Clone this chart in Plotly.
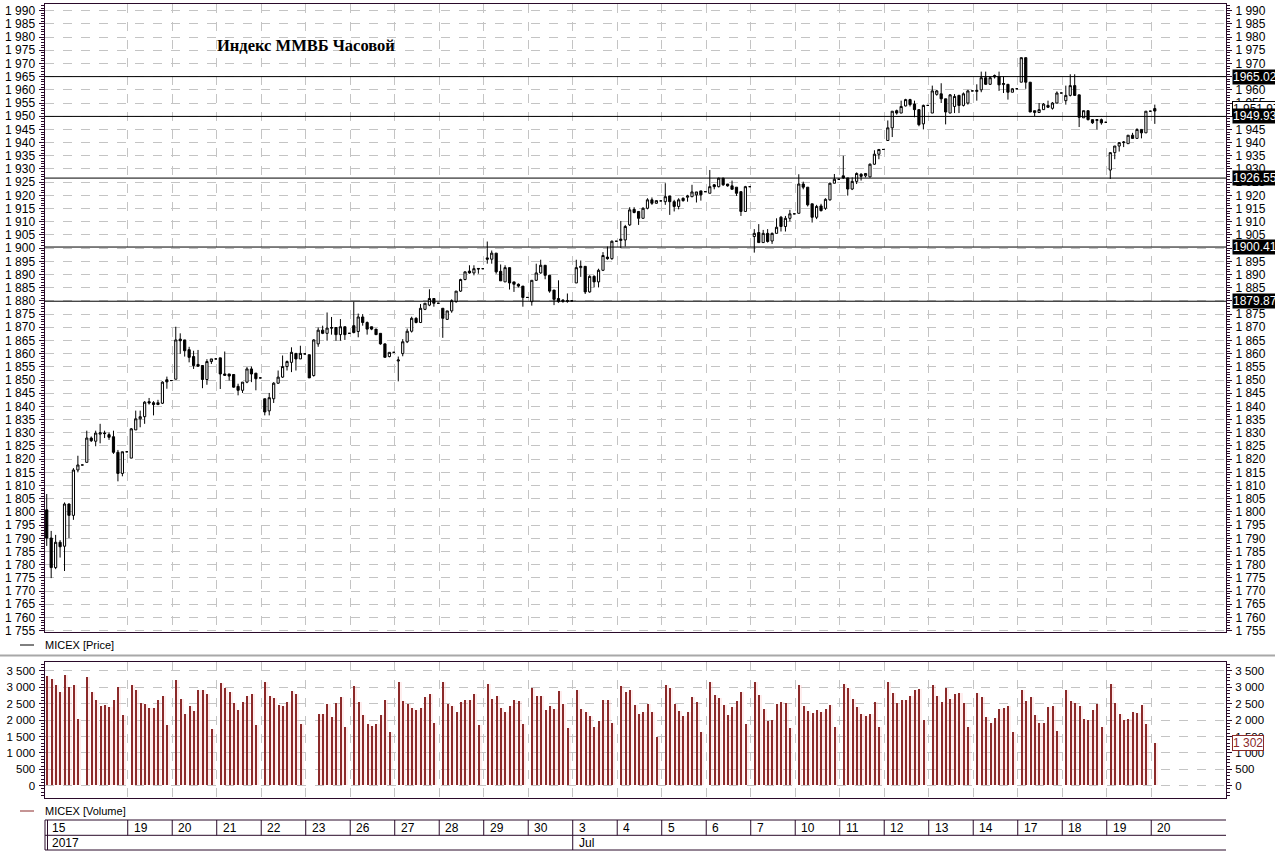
import plotly.graph_objects as go

# ---------------- data ----------------
# trading sessions shown on the time axis ('' = session without its own label)
day_labels = ['15', '', '19', '20', '21', '22', '23', '26', '27', '28', '29', '30',
              '3', '4', '5', '6', '7', '10', '11', '12', '13', '14', '17', '18', '19', '20']
month_labels = {0: '2017', 12: 'Jul'}
bars_per_day = [9] + [10] * 24 + [1]
first_slot = 1
slots_per_day = 10

opens = [
    1800.8, 1790.1, 1778.9, 1788.5, 1787.0, 1803.0, 1798.7, 1815.9, 1817.8,
    1818.8, 1828.0, 1826.8, 1829.5, 1829.9, 1829.3, 1828.5, 1822.6, 1814.6, 1822.8,
    1820.4, 1831.1, 1835.3, 1836.1, 1841.8, 1841.4, 1840.7, 1841.2, 1850.1, 1849.8,
    1850.3, 1865.5, 1865.2, 1861.5, 1858.9, 1855.9, 1855.5, 1850.2, 1857.0, 1858.0,
    1858.4, 1852.3, 1852.3, 1852.1, 1847.6, 1846.1, 1849.2, 1854.2, 1852.6, 1850.8,
    1842.9, 1838.3, 1842.9, 1848.8, 1851.1, 1855.1, 1856.7, 1860.1, 1858.0, 1859.9,
    1859.6, 1851.7, 1863.7, 1868.9, 1867.7, 1869.9, 1869.9, 1867.2, 1870.2, 1867.7,
    1870.6, 1868.4, 1873.9, 1871.8, 1870.2, 1869.3, 1867.7, 1863.7, 1858.9, 1860.5,
    1857.2, 1860.0, 1864.5, 1868.5, 1873.4, 1871.8, 1876.8, 1878.4, 1880.9, 1879.1,
    1877.2, 1873.0, 1876.2, 1879.7, 1883.7, 1888.1, 1891.3, 1890.6, 1892.3, 1892.2,
    1896.3, 1895.8, 1898.1, 1891.2, 1887.2, 1892.6, 1887.2, 1886.3, 1885.6, 1881.3,
    1879.7, 1887.8, 1890.6, 1893.5, 1889.7, 1884.1, 1880.9, 1880.3, 1879.8, 1880.0,
    1886.8, 1892.6, 1893.1, 1883.4, 1889.3, 1887.2, 1891.6, 1896.6, 1896.0, 1902.6,
    1902.9, 1903.1, 1908.8, 1914.7, 1913.9, 1911.3, 1915.1, 1918.3, 1917.0, 1917.9,
    1917.6, 1919.8, 1917.6, 1915.8, 1918.9, 1919.3, 1919.5, 1920.2, 1921.7, 1921.4,
    1920.8, 1924.0, 1923.3, 1926.5, 1924.3, 1923.6, 1923.1, 1921.4, 1913.9, 1923.3,
    1904.4, 1905.9, 1902.1, 1905.6, 1902.7, 1905.6, 1911.7, 1908.2, 1911.3, 1913.0,
    1913.2, 1924.3, 1923.1, 1916.8, 1911.7, 1916.0, 1915.1, 1918.3, 1924.6, 1926.1,
    1927.4, 1926.6, 1922.4, 1925.3, 1928.0, 1927.4, 1927.0, 1931.8, 1935.6, 1937.4,
    1940.8, 1945.6, 1952.1, 1951.2, 1953.9, 1956.3, 1954.6, 1952.5, 1947.1, 1954.1,
    1951.2, 1958.3, 1958.5, 1956.6, 1951.2, 1953.7, 1957.9, 1954.1, 1955.0, 1959.6,
    1959.4, 1960.0, 1964.6, 1962.1, 1964.9, 1965.0, 1962.0, 1962.1, 1959.1, 1960.4,
    1962.9, 1972.2, 1962.9, 1951.4, 1951.4, 1952.5, 1954.1, 1953.0, 1955.0, 1958.8,
    1955.9, 1957.9, 1961.6, 1958.1, 1949.4, 1952.1, 1948.7, 1948.4, 1948.7, 1947.7,
    1929.6, 1936.2, 1938.7, 1940.0, 1939.6, 1942.8, 1941.6, 1945.0, 1943.7, 1951.9,
    1952.9,
]
highs = [
    1806.8, 1792.8, 1791.3, 1789.3, 1803.6, 1803.2, 1816.6, 1821.3, 1817.8,
    1830.8, 1828.6, 1830.8, 1833.4, 1830.8, 1830.2, 1830.8, 1823.5, 1822.8, 1822.8,
    1831.8, 1838.4, 1838.4, 1842.0, 1843.2, 1842.0, 1842.5, 1849.5, 1851.3, 1849.8,
    1870.2, 1867.7, 1865.2, 1862.6, 1861.1, 1861.4, 1855.5, 1857.9, 1858.0, 1858.0,
    1858.4, 1860.8, 1852.3, 1852.1, 1848.6, 1849.2, 1854.9, 1855.1, 1852.6, 1850.8,
    1842.9, 1845.1, 1849.2, 1853.6, 1859.3, 1857.4, 1862.4, 1860.1, 1863.0, 1859.9,
    1859.6, 1865.5, 1869.9, 1870.6, 1875.6, 1873.9, 1869.9, 1873.1, 1870.2, 1867.7,
    1879.7, 1875.2, 1875.0, 1872.2, 1870.2, 1869.3, 1867.7, 1863.9, 1860.5, 1860.5,
    1858.9, 1865.5, 1869.5, 1874.0, 1873.8, 1878.8, 1879.1, 1884.4, 1880.9, 1879.1,
    1877.2, 1876.2, 1880.6, 1883.7, 1888.4, 1891.2, 1893.5, 1893.5, 1892.3, 1892.2,
    1902.5, 1899.1, 1898.1, 1893.8, 1893.5, 1892.6, 1887.2, 1886.6, 1885.6, 1881.3,
    1887.8, 1894.1, 1895.6, 1893.5, 1889.7, 1884.1, 1887.8, 1880.6, 1882.8, 1880.0,
    1895.6, 1895.3, 1893.1, 1889.7, 1889.7, 1892.2, 1898.5, 1900.6, 1902.9, 1902.6,
    1910.3, 1908.8, 1915.5, 1915.5, 1913.9, 1915.5, 1918.9, 1919.2, 1918.0, 1917.9,
    1924.6, 1919.8, 1918.3, 1918.9, 1919.2, 1920.2, 1924.0, 1921.3, 1921.7, 1921.4,
    1929.6, 1924.3, 1926.7, 1926.7, 1924.3, 1925.6, 1923.1, 1921.4, 1923.6, 1923.3,
    1907.2, 1909.1, 1906.9, 1907.2, 1905.9, 1911.3, 1912.2, 1912.2, 1914.5, 1913.0,
    1928.0, 1925.2, 1923.1, 1916.8, 1916.4, 1916.8, 1918.9, 1924.8, 1928.1, 1926.1,
    1935.0, 1926.6, 1926.8, 1928.7, 1928.4, 1928.3, 1932.1, 1937.1, 1937.4, 1937.4,
    1948.4, 1951.9, 1952.5, 1955.9, 1956.6, 1956.6, 1955.9, 1952.5, 1954.4, 1954.1,
    1961.6, 1960.0, 1962.5, 1956.6, 1958.4, 1958.4, 1958.1, 1959.0, 1960.0, 1959.6,
    1962.1, 1966.9, 1966.9, 1964.9, 1965.8, 1966.9, 1965.0, 1962.1, 1960.6, 1960.4,
    1972.2, 1972.2, 1962.9, 1952.1, 1955.0, 1955.0, 1955.9, 1955.4, 1959.4, 1958.8,
    1961.6, 1965.9, 1965.9, 1958.1, 1952.1, 1952.1, 1948.7, 1948.7, 1949.1, 1947.7,
    1936.2, 1938.7, 1940.0, 1940.6, 1942.8, 1943.7, 1945.4, 1945.0, 1951.9, 1951.9,
    1954.4,
]
lows = [
    1787.1, 1774.9, 1778.3, 1782.7, 1777.6, 1790.1, 1797.0, 1815.0, 1817.8,
    1818.8, 1826.5, 1824.9, 1826.0, 1828.0, 1827.3, 1822.0, 1811.6, 1813.5, 1822.8,
    1820.4, 1831.1, 1832.1, 1833.4, 1840.7, 1836.6, 1840.5, 1840.9, 1846.7, 1849.8,
    1850.3, 1859.9, 1858.9, 1856.7, 1854.2, 1855.2, 1846.9, 1848.2, 1856.1, 1858.0,
    1846.6, 1851.6, 1849.8, 1847.1, 1844.2, 1845.1, 1848.8, 1849.2, 1846.1, 1850.8,
    1836.6, 1836.6, 1841.3, 1848.6, 1850.8, 1853.6, 1853.0, 1853.6, 1858.0, 1859.9,
    1850.8, 1851.3, 1862.6, 1867.4, 1864.9, 1867.2, 1864.9, 1864.9, 1865.2, 1867.7,
    1867.7, 1866.2, 1870.6, 1867.2, 1868.9, 1867.2, 1863.4, 1858.6, 1858.6, 1860.5,
    1849.5, 1859.0, 1864.0, 1868.0, 1871.5, 1871.6, 1876.5, 1878.0, 1877.8, 1879.1,
    1866.0, 1872.8, 1875.5, 1879.3, 1883.4, 1887.8, 1890.3, 1889.7, 1890.3, 1892.2,
    1894.1, 1894.1, 1890.3, 1887.6, 1887.2, 1884.3, 1883.4, 1885.1, 1877.8, 1881.3,
    1878.2, 1887.6, 1890.3, 1888.2, 1883.1, 1878.4, 1879.3, 1879.3, 1879.3, 1880.0,
    1886.8, 1889.1, 1882.6, 1883.1, 1885.1, 1885.1, 1891.3, 1895.6, 1895.6, 1902.6,
    1900.0, 1900.6, 1908.4, 1913.2, 1908.8, 1911.3, 1914.7, 1916.4, 1916.9, 1917.9,
    1916.4, 1912.6, 1913.9, 1914.7, 1917.6, 1917.6, 1919.3, 1917.3, 1918.0, 1921.4,
    1920.8, 1922.3, 1923.0, 1923.6, 1923.3, 1922.3, 1919.8, 1912.2, 1913.9, 1923.3,
    1898.3, 1902.1, 1902.1, 1902.1, 1901.6, 1905.6, 1906.3, 1906.3, 1910.1, 1913.0,
    1913.2, 1922.3, 1915.8, 1909.7, 1911.0, 1913.9, 1914.5, 1918.0, 1924.6, 1926.1,
    1926.2, 1919.9, 1922.0, 1924.3, 1925.6, 1926.8, 1926.8, 1931.6, 1933.7, 1937.4,
    1940.6, 1942.1, 1950.6, 1951.2, 1953.7, 1953.7, 1949.6, 1946.2, 1945.0, 1954.1,
    1951.2, 1957.8, 1955.0, 1946.9, 1951.2, 1951.2, 1951.2, 1953.7, 1954.4, 1959.6,
    1955.9, 1959.1, 1961.9, 1961.9, 1964.3, 1959.6, 1958.8, 1956.3, 1959.1, 1960.4,
    1962.9, 1960.4, 1951.6, 1950.0, 1951.4, 1952.5, 1953.1, 1952.5, 1955.0, 1958.8,
    1954.4, 1957.5, 1957.9, 1945.9, 1949.4, 1948.4, 1947.1, 1945.0, 1946.8, 1947.7,
    1926.2, 1933.7, 1936.6, 1938.3, 1939.6, 1941.6, 1941.6, 1941.6, 1943.7, 1951.9,
    1947.1,
]
closes = [
    1790.1, 1778.9, 1788.5, 1786.8, 1803.0, 1798.7, 1815.9, 1817.8, 1817.8,
    1828.0, 1827.0, 1829.9, 1830.0, 1829.7, 1828.3, 1822.6, 1814.6, 1822.8, 1822.8,
    1831.5, 1835.3, 1836.1, 1841.6, 1841.3, 1840.7, 1841.4, 1849.2, 1849.3, 1849.8,
    1865.2, 1864.9, 1861.1, 1858.6, 1855.5, 1855.2, 1850.2, 1857.0, 1858.0, 1858.0,
    1852.3, 1851.8, 1851.5, 1847.3, 1846.1, 1849.2, 1854.2, 1852.3, 1850.5, 1850.8,
    1837.9, 1843.3, 1848.8, 1851.1, 1855.1, 1857.0, 1860.5, 1858.0, 1860.1, 1859.9,
    1850.8, 1865.2, 1868.9, 1867.7, 1869.7, 1869.7, 1867.2, 1870.2, 1867.2, 1867.7,
    1868.0, 1873.9, 1871.8, 1869.3, 1869.3, 1867.2, 1863.7, 1858.6, 1860.5, 1860.5,
    1857.6, 1864.5, 1868.5, 1873.4, 1871.8, 1877.2, 1879.1, 1880.9, 1879.1, 1879.1,
    1873.4, 1876.2, 1880.1, 1883.7, 1888.1, 1891.0, 1890.6, 1892.2, 1892.1, 1892.2,
    1895.8, 1898.1, 1891.0, 1887.6, 1892.6, 1886.8, 1886.3, 1885.6, 1881.3, 1881.3,
    1887.8, 1890.6, 1893.5, 1889.7, 1883.7, 1880.6, 1879.7, 1879.8, 1880.1, 1880.0,
    1892.6, 1893.1, 1883.4, 1889.3, 1887.2, 1891.6, 1897.2, 1896.0, 1902.6, 1902.6,
    1903.4, 1908.2, 1914.5, 1913.5, 1911.3, 1915.1, 1918.3, 1917.0, 1918.0, 1917.9,
    1919.5, 1917.6, 1915.8, 1918.3, 1918.0, 1919.8, 1921.3, 1921.3, 1920.2, 1921.4,
    1923.3, 1923.3, 1926.5, 1924.0, 1923.6, 1922.3, 1920.8, 1913.9, 1923.3, 1923.3,
    1905.6, 1902.1, 1905.6, 1902.5, 1905.6, 1907.9, 1908.2, 1911.3, 1913.0, 1913.0,
    1924.3, 1923.1, 1916.4, 1911.7, 1915.8, 1914.2, 1918.5, 1924.6, 1926.1, 1926.1,
    1926.6, 1922.4, 1925.3, 1928.3, 1927.2, 1928.3, 1931.8, 1935.6, 1937.4, 1937.4,
    1945.6, 1951.9, 1951.2, 1953.7, 1956.3, 1954.4, 1952.5, 1946.8, 1954.1, 1954.1,
    1959.6, 1959.6, 1956.6, 1951.6, 1958.1, 1957.5, 1954.1, 1958.5, 1959.6, 1959.6,
    1959.8, 1964.6, 1962.1, 1964.6, 1965.4, 1961.9, 1962.4, 1959.1, 1960.4, 1960.4,
    1972.2, 1962.9, 1951.6, 1952.1, 1952.5, 1954.6, 1953.4, 1955.0, 1958.8, 1958.8,
    1957.9, 1961.6, 1957.9, 1949.6, 1952.1, 1948.7, 1947.5, 1948.7, 1947.5, 1947.7,
    1936.2, 1938.7, 1940.0, 1940.2, 1942.8, 1941.6, 1945.0, 1943.7, 1951.9, 1951.9,
    1951.97,
]
volumes = [
    3327, 3256, 3073, 2839, 3378, 2991, 3073, 2035, 0,
    3296, 2839, 2594, 2411, 2442, 2381, 2615, 2991, 2137, 0,
    3073, 2900, 2513, 2493, 2350, 2350, 2615, 2716, 1852, 0,
    3205, 2645, 2187, 2432, 2259, 2900, 2920, 2798, 1730, 0,
    3134, 2981, 2839, 2523, 2289, 2554, 2737, 2798, 1852, 0,
    3164, 2716, 2676, 2462, 2432, 2554, 2889, 2798, 1882, 0,
    0, 0, 2187, 2187, 2493, 2075, 2513, 2686, 1770, 0,
    3042, 2533, 2157, 1882, 1821, 1882, 2157, 2615, 1618, 0,
    3142, 2581, 2489, 2366, 2305, 2366, 2683, 2795, 1918, 0,
    3142, 2479, 2428, 2254, 2550, 2591, 2611, 2795, 1846, 0,
    3101, 2642, 2734, 2377, 2244, 2438, 2611, 2570, 1877, 0,
    2958, 2713, 2713, 2305, 2438, 2346, 2866, 2489, 1754, 0,
    2917, 2346, 2254, 2132, 1795, 1979, 2611, 2591, 1918, 0,
    3019, 2836, 2897, 2468, 2183, 2254, 2489, 2244, 1489, 0,
    3050, 2978, 2479, 2275, 2122, 2244, 2683, 2530, 1642, 0,
    3142, 2744, 2672, 2468, 2162, 2397, 2581, 2836, 1877, 0,
    3162, 2744, 2336, 1958, 1999, 2489, 2530, 2509, 1754, 0,
    3070, 2428, 2285, 2224, 2305, 2244, 2336, 2468, 1795, 0,
    3101, 2958, 2642, 2397, 2183, 2122, 2183, 2550, 1795, 0,
    3162, 2805, 2519, 2594, 2615, 2737, 2900, 2950, 1984, 0,
    3073, 2737, 2554, 2961, 2645, 2798, 2818, 2513, 1770, 0,
    2828, 2686, 2075, 1913, 2065, 2340, 2371, 2432, 1638, 0,
    2920, 2564, 2706, 2157, 1892, 1913, 2381, 2411, 1669, 0,
    2920, 2584, 2513, 2432, 2035, 1984, 2310, 2493, 1770, 0,
    3103, 2513, 2187, 1984, 2035, 2248, 2218, 2442, 1862, 0,
    1302,
]

level_values = [1965.02, 1949.93, 1926.55, 1900.41, 1879.87]
level_labels = ['1965.02', '1949.93', '1926.55', '1900.41', '1879.87']
last_price_label = '1 951.97'
last_volume_label = '1 302'
title_text = 'Индекс ММВБ Часовой'
price_legend = 'MICEX [Price]'
volume_legend = 'MICEX [Volume]'

# ---------------- geometry ----------------
W, H = 1275, 858
def px_x(p):
    return p / W
def px_y(p):
    return 1 - p / H

xs = []
for d, n in enumerate(bars_per_day):
    start = d * slots_per_day + (first_slot if d == 0 else 0)
    xs.extend(start + i for i in range(n))

x_range = [0.5, 266]
sep_offset = -0.8
grid_x = [d * slots_per_day + sep_offset for d, lab in enumerate(day_labels) if d > 0 and lab]

frame = '#2a0a2a'
grid = '#c4c4c4'
vol_color = '#8b2a2a'
sans = 'Liberation Sans, Arial, sans-serif'
price_tick_font = dict(family=sans, size=12, color='black')
vol_tick_font = dict(family=sans, size=11.5, color='black')
text_font = dict(family=sans, size=11, color='black')

price_dom = [px_y(632.3), px_y(4)]
vol_dom = [px_y(798), px_y(662.3)]
x_dom = [px_x(44.5), px_x(1226)]

fig = go.Figure()

fig.add_trace(go.Candlestick(
    x=xs, open=opens, high=highs, low=lows, close=closes,
    increasing=dict(line=dict(color='black', width=1), fillcolor='white'),
    decreasing=dict(line=dict(color='black', width=1), fillcolor='black'),
    whiskerwidth=0, hoverinfo='skip', showlegend=False, xaxis='x', yaxis='y'))
fig.add_trace(go.Scatter(x=[xs[0]], y=[closes[0]], mode='markers', marker=dict(opacity=0),
                         hoverinfo='skip', showlegend=False, xaxis='x', yaxis='y3'))

fig.add_trace(go.Bar(x=[x + 0.4 for x in xs], y=volumes, width=0.55,
                     marker=dict(color='rgba(255,205,205,0.35)', line=dict(width=0)),
                     hoverinfo='skip', showlegend=False, xaxis='x2', yaxis='y2'))
fig.add_trace(go.Bar(x=xs, y=volumes, width=0.28,
                     marker=dict(color=vol_color, line=dict(width=0)),
                     hoverinfo='skip', showlegend=False, xaxis='x2', yaxis='y2'))
fig.add_trace(go.Scatter(x=[xs[0]], y=[0], mode='markers', marker=dict(opacity=0),
                         hoverinfo='skip', showlegend=False, xaxis='x2', yaxis='y4'))

xa = dict(domain=x_dom, range=x_range, tickmode='array', tickvals=grid_x, showticklabels=False,
          ticks='', showgrid=True, gridcolor=grid, griddash='dash', gridwidth=1, automargin=False,
          showline=True, mirror=True, linecolor=frame, linewidth=1, zeroline=False)
def ya(dom, rng, dtick, minor, side, show_grid, font, overlay=None, anchor='x'):
    d = dict(domain=dom, range=rng, tick0=0, dtick=dtick, tickformat=',d', ticks='outside',
             ticklen=5, tickcolor=frame, tickwidth=1, tickfont=font, side=side, automargin=False,
             minor=dict(dtick=minor, tick0=0, ticks='outside', ticklen=3, tickcolor=frame, showgrid=False),
             showgrid=show_grid, gridcolor=grid, griddash='dash', gridwidth=1,
             showline=True, linecolor=frame, linewidth=1, zeroline=False, anchor=anchor, ticklabelstandoff=1)
    if overlay:
        d['overlaying'] = overlay
    return d

fig.update_layout(
    width=W, height=H, margin=dict(l=0, r=0, t=0, b=0, autoexpand=False),
    paper_bgcolor='white', plot_bgcolor='white', showlegend=False,
    separators='. ', barmode='overlay', bargap=0,
    xaxis=dict(xa, anchor='y', rangeslider=dict(visible=False)),
    xaxis2=dict(xa, anchor='y2'),
    yaxis=ya(price_dom, [1754.37, 1992.54], 5, 1, 'left', True, price_tick_font),
    yaxis3=ya(price_dom, [1754.37, 1992.54], 5, 1, 'right', False, price_tick_font, overlay='y'),
    yaxis2=ya(vol_dom, [-375, 3765], 500, 100, 'left', True, vol_tick_font, anchor='x2'),
    yaxis4=ya(vol_dom, [-375, 3765], 500, 100, 'right', False, vol_tick_font, overlay='y2', anchor='x2'),
)

shapes = []
annotations = []

# support / resistance lines with their labels
for v in level_values:
    shapes.append(dict(type='line', xref='x', yref='y', x0=x_range[0], x1=x_range[1], y0=v, y1=v,
                       line=dict(color='black', width=1)))
annotations.append(dict(xref='paper', yref='y', x=px_x(1232), y=closes[-1] + 0.6, xanchor='left',
                        yanchor='middle', text=last_price_label, showarrow=False,
                        font=dict(family=sans, size=12, color='black'),
                        bgcolor='white', bordercolor='black', borderwidth=1, borderpad=0))
for v, lab in zip(level_values, level_labels):
    annotations.append(dict(xref='paper', yref='y', x=px_x(1232), y=v, xanchor='left', yanchor='middle',
                            text=lab, showarrow=False,
                            font=dict(family=sans, size=12, color='white'),
                            bgcolor='black', borderpad=0))
annotations.append(dict(xref='paper', yref='y2', x=px_x(1232), y=volumes[-1], xanchor='left',
                        yanchor='middle', text=last_volume_label, showarrow=False,
                        font=dict(family=sans, size=12, color=vol_color),
                        bgcolor='white', bordercolor=vol_color, borderwidth=1, borderpad=0))

# title
annotations.append(dict(xref='paper', yref='paper', x=px_x(215), y=px_y(45), xanchor='left', yanchor='middle',
                        text='<b>' + title_text + '</b>', showarrow=False,
                        font=dict(family='Liberation Serif, Times New Roman, serif', size=16.5, color='black')))

# legends and separator
shapes.append(dict(type='line', xref='paper', yref='paper', x0=px_x(20), x1=px_x(34), y0=px_y(645), y1=px_y(645),
                   line=dict(color='black', width=1)))
annotations.append(dict(xref='paper', yref='paper', x=px_x(43), y=px_y(645), xanchor='left', yanchor='middle',
                        text=price_legend, showarrow=False, font=text_font))
shapes.append(dict(type='line', xref='paper', yref='paper', x0=0, x1=1, y0=px_y(655.5), y1=px_y(655.5),
                   line=dict(color='#a8a8a8', width=2)))
shapes.append(dict(type='line', xref='paper', yref='paper', x0=px_x(20), x1=px_x(34), y0=px_y(811), y1=px_y(811),
                   line=dict(color=vol_color, width=1)))
annotations.append(dict(xref='paper', yref='paper', x=px_x(43), y=px_y(811), xanchor='left', yanchor='middle',
                        text=volume_legend, showarrow=False, font=text_font))

# date table under the charts
t_top, t_mid, t_bot = px_y(820), px_y(835.3), px_y(850)
tl, tr = px_x(45), px_x(1226)
for yy in (t_top, t_mid, t_bot):
    shapes.append(dict(type='line', xref='paper', yref='paper', x0=tl, x1=tr, y0=yy, y1=yy,
                       line=dict(color=frame, width=1)))
for xx in (px_x(45), px_x(47.5)):
    shapes.append(dict(type='line', xref='paper', yref='paper', x0=xx, x1=xx, y0=t_bot, y1=t_top,
                       line=dict(color=frame, width=1)))
for d, lab in enumerate(day_labels):
    if not lab:
        continue
    gx = d * slots_per_day + sep_offset
    if d > 0:
        shapes.append(dict(type='line', xref='x', yref='paper', x0=gx, x1=gx, y0=t_mid, y1=t_top,
                           line=dict(color=frame, width=1)))
    tx = gx + 0.9 if d > 0 else 1.8
    annotations.append(dict(xref='x', yref='paper', x=tx, y=(t_top + t_mid) / 2, xanchor='left',
                            yanchor='middle', text=lab, showarrow=False, font=dict(text_font, size=12)))
for d, lab in month_labels.items():
    gx = d * slots_per_day + sep_offset
    if d > 0:
        shapes.append(dict(type='line', xref='x', yref='paper', x0=gx, x1=gx, y0=t_bot, y1=t_mid,
                           line=dict(color=frame, width=1)))
    tx = gx + 0.9 if d > 0 else 1.8
    annotations.append(dict(xref='x', yref='paper', x=tx, y=(t_mid + t_bot) / 2, xanchor='left',
                            yanchor='middle', text=lab, showarrow=False, font=dict(text_font, size=12)))

fig.update_layout(shapes=shapes, annotations=annotations)
fig.write_html('out.html', config={'displayModeBar': False},
               post_script="document.body.style.margin='0';")
